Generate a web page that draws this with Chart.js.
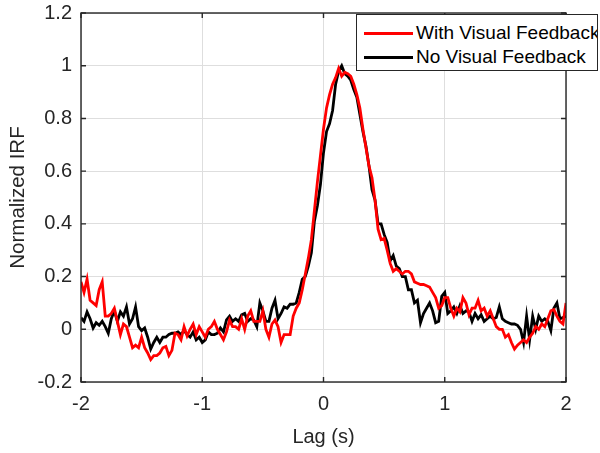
<!DOCTYPE html>
<html>
<head>
<meta charset="utf-8">
<script src="https://cdn.jsdelivr.net/npm/chart.js@4.4.1/dist/chart.umd.min.js"></script>
<style>
  html, body { margin: 0; padding: 0; background: #fff; }
  #wrap { position: relative; width: 600px; height: 453px; overflow: hidden; }
  #legend {
    position: absolute; left: 356px; top: 14px; width: 242px; height: 57px;
    box-sizing: border-box; border: 1px solid #262626; background: #fff; overflow: hidden;
    font-family: "Liberation Sans", Arial, Helvetica, sans-serif; font-size: 19px; color: #000;
  }
  .item { position: absolute; left: 7px; height: 22px; display: flex; align-items: center; white-space: nowrap; }
  .swatch { width: 49px; height: 3px; margin-right: 3px; }
</style>
</head>
<body>
<div id="wrap">
  <canvas id="c" width="600" height="453"></canvas>
  <div id="legend">
    <div class="item" style="top:7px"><span class="swatch" style="background:#ff0000"></span><span id="l0"></span></div>
    <div class="item" style="top:31px"><span class="swatch" style="background:#000000"></span><span id="l1"></span></div>
  </div>
</div>
<script>
// ---- data ----
const seriesNames = ["With Visual Feedback", "No Visual Feedback"];
const xTickLabels = ["-2", "-1", "0", "1", "2"];
const yTickLabels = ["-0.2", "0", "0.2", "0.4", "0.6", "0.8", "1", "1.2"];
const lags = [
 -2,-1.975,-1.95,-1.925,-1.9,-1.875,-1.85,-1.825,-1.8,-1.775,
 -1.75,-1.725,-1.7,-1.675,-1.65,-1.625,-1.6,-1.575,-1.55,-1.525,
 -1.5,-1.475,-1.45,-1.425,-1.4,-1.375,-1.35,-1.325,-1.3,-1.275,
 -1.25,-1.225,-1.2,-1.175,-1.15,-1.125,-1.1,-1.075,-1.05,-1.025,
 -1,-0.975,-0.95,-0.925,-0.9,-0.875,-0.85,-0.825,-0.8,-0.775,
 -0.75,-0.725,-0.7,-0.675,-0.65,-0.625,-0.6,-0.575,-0.55,-0.525,
 -0.5,-0.475,-0.45,-0.425,-0.4,-0.375,-0.35,-0.325,-0.3,-0.275,
 -0.25,-0.225,-0.2,-0.175,-0.15,-0.125,-0.1,-0.075,-0.05,-0.025,
 0,0.025,0.05,0.075,0.1,0.125,0.15,0.175,0.2,0.225,
 0.25,0.275,0.3,0.325,0.35,0.375,0.4,0.425,0.45,0.475,
 0.5,0.525,0.55,0.575,0.6,0.625,0.65,0.675,0.7,0.725,
 0.75,0.775,0.8,0.825,0.85,0.875,0.9,0.925,0.95,0.975,
 1,1.025,1.05,1.075,1.1,1.125,1.15,1.175,1.2,1.225,
 1.25,1.275,1.3,1.325,1.35,1.375,1.4,1.425,1.45,1.475,
 1.5,1.525,1.55,1.575,1.6,1.625,1.65,1.675,1.7,1.725,
 1.75,1.775,1.8,1.825,1.85,1.875,1.9,1.925,1.95,1.975,
 2
];
const withFeedback = [
 0.18,0.14,0.19,0.11,0.10,0.09,0.15,0.18,0.05,0.05,
 0.06,0.08,0.03,-0.02,0.02,0.01,-0.03,-0.07,-0.06,-0.07,
 -0.03,-0.07,-0.09,-0.115,-0.10,-0.10,-0.09,-0.07,-0.065,-0.10,
 -0.08,-0.015,-0.02,-0.04,0.01,-0.025,0.0,0.02,-0.02,0.01,
 -0.01,-0.03,0.0,0.01,0.03,0.0,-0.02,-0.04,-0.01,0.035,
 0.01,0.01,0.0,0.04,0.0,0.05,0.07,0.03,0.03,0.03,
 0.07,0.0,-0.03,0.02,0.035,0.01,-0.05,-0.02,-0.02,-0.02,
 0.05,0.08,0.10,0.15,0.21,0.27,0.34,0.45,0.56,0.66,
 0.76,0.84,0.89,0.93,0.955,0.99,0.96,0.975,0.97,0.96,
 0.93,0.89,0.84,0.76,0.69,0.62,0.575,0.49,0.38,0.34,
 0.345,0.30,0.25,0.22,0.23,0.22,0.21,0.22,0.22,0.21,
 0.18,0.175,0.17,0.17,0.165,0.16,0.14,0.12,0.08,0.09,
 0.12,0.12,0.08,0.05,0.08,0.066,0.12,0.10,0.055,0.08,
 0.08,0.11,0.07,0.08,0.05,0.07,0.04,0.01,0.0,0.0,
 -0.03,-0.02,-0.05,-0.075,-0.06,-0.05,-0.04,-0.05,-0.03,-0.015,
 0.01,0.0,0.02,0.01,0.04,0.07,0.075,0.05,0.03,0.02,
 0.10
];
const noFeedback = [
 0.044,0.03,0.066,0.04,0.005,0.025,0.015,0.03,0.01,-0.015,
 0.04,0.07,0.03,0.066,0.05,0.085,0.02,0.04,0.085,0.01,
 -0.005,0.005,-0.03,-0.075,-0.05,-0.03,-0.05,-0.03,-0.03,-0.02,
 -0.015,-0.015,-0.01,-0.02,-0.005,-0.02,-0.03,-0.01,-0.04,-0.03,
 -0.05,-0.04,-0.01,-0.02,-0.02,-0.015,0.005,-0.01,0.036,0.05,
 0.03,0.04,0.03,0.055,0.06,0.03,0.04,0.035,0.01,0.10,
 0.07,0.03,0.03,0.08,0.11,0.04,0.06,0.085,0.08,0.095,
 0.095,0.10,0.14,0.19,0.20,0.24,0.29,0.41,0.47,0.55,
 0.67,0.75,0.78,0.83,0.93,0.98,1.0,0.97,0.96,0.945,
 0.91,0.88,0.815,0.75,0.695,0.62,0.53,0.49,0.40,0.40,
 0.36,0.33,0.26,0.28,0.24,0.23,0.20,0.20,0.15,0.15,
 0.10,0.11,0.025,0.06,0.08,0.10,0.07,0.025,0.03,0.125,
 0.14,0.06,0.07,0.085,0.06,0.09,0.06,0.07,0.065,0.03,
 0.06,0.04,0.055,0.03,0.04,0.05,0.04,0.045,0.085,0.04,
 0.03,0.025,0.02,0.02,0.015,0.0,-0.05,0.05,-0.04,0.05,
 0.0,0.05,0.03,0.04,0.03,-0.005,0.08,0.10,0.04,0.045,
 0.05
];
const xTitle = "Lag (s)";
const yTitle = "Normalized IRF";

// ---- chart ----
document.getElementById('l0').textContent = seriesNames[0];
document.getElementById('l1').textContent = seriesNames[1];

const FONT = '"Liberation Sans", Arial, Helvetica, sans-serif';
const AXC = '#262626';
const toPts = (vals) => vals.map((v, i) => ({ x: lags[i], y: v }));

const boxPlugin = {
  id: 'boxTicks',
  afterDraw(chart) {
    const { ctx, chartArea: a, scales: { x, y } } = chart;
    ctx.save();
    ctx.strokeStyle = AXC;
    ctx.lineWidth = 1.4;
    ctx.strokeRect(a.left, a.top, a.right - a.left, a.bottom - a.top);
    const L = 5;
    ctx.beginPath();
    x.ticks.forEach(t => {
      const px = x.getPixelForValue(t.value);
      ctx.moveTo(px, a.bottom); ctx.lineTo(px, a.bottom - L);
      ctx.moveTo(px, a.top); ctx.lineTo(px, a.top + L);
    });
    y.ticks.forEach(t => {
      const py = y.getPixelForValue(t.value);
      ctx.moveTo(a.left, py); ctx.lineTo(a.left + L, py);
      ctx.moveTo(a.right, py); ctx.lineTo(a.right - L, py);
    });
    ctx.stroke();
    ctx.restore();
  }
};

new Chart(document.getElementById('c'), {
  type: 'line',
  data: {
    datasets: [
      { label: seriesNames[0], data: toPts(withFeedback), borderColor: '#ff0000', borderWidth: 2.8, pointRadius: 0, tension: 0, fill: false },
      { label: seriesNames[1], data: toPts(noFeedback), borderColor: '#000000', borderWidth: 2.8, pointRadius: 0, tension: 0, fill: false }
    ]
  },
  options: {
    responsive: false,
    animation: false,
    events: [],
    layout: { padding: { top: 13, right: 34, left: 0, bottom: 0 } },
    plugins: { legend: { display: false }, tooltip: { enabled: false } },
    scales: {
      x: {
        type: 'linear', min: -2, max: 2,
        afterFit: (s) => { s.height = 71; s.paddingLeft = 0; s.paddingRight = 0; s.paddingTop = 0; s.paddingBottom = 0; },
        afterBuildTicks: (s) => { s.ticks = xTickLabels.map(l => ({ value: parseFloat(l) })); },
        ticks: { callback: (v, i) => xTickLabels[i], color: AXC, font: { family: FONT, size: 20 }, padding: 10, maxRotation: 0 },
        grid: { color: '#dedede', lineWidth: 1, drawTicks: false },
        border: { display: false },
        title: { display: true, text: xTitle, color: AXC, font: { family: FONT, size: 20 }, padding: { top: 0, bottom: 4 } }
      },
      y: {
        type: 'linear', min: -0.2, max: 1.2,
        afterFit: (s) => { s.width = 81; s.paddingTop = 0; s.paddingBottom = 0; s.paddingLeft = 0; s.paddingRight = 0; },
        afterBuildTicks: (s) => { s.ticks = yTickLabels.map(l => ({ value: parseFloat(l) })); },
        ticks: { callback: (v, i) => yTickLabels[i], color: AXC, font: { family: FONT, size: 20 }, padding: 9 },
        grid: { color: '#dedede', lineWidth: 1, drawTicks: false },
        border: { display: false },
        title: { display: true, text: yTitle, color: AXC, font: { family: FONT, size: 20.5 }, padding: { top: 6, bottom: 0 } }
      }
    }
  },
  plugins: [boxPlugin]
});
</script>
</body>
</html>
